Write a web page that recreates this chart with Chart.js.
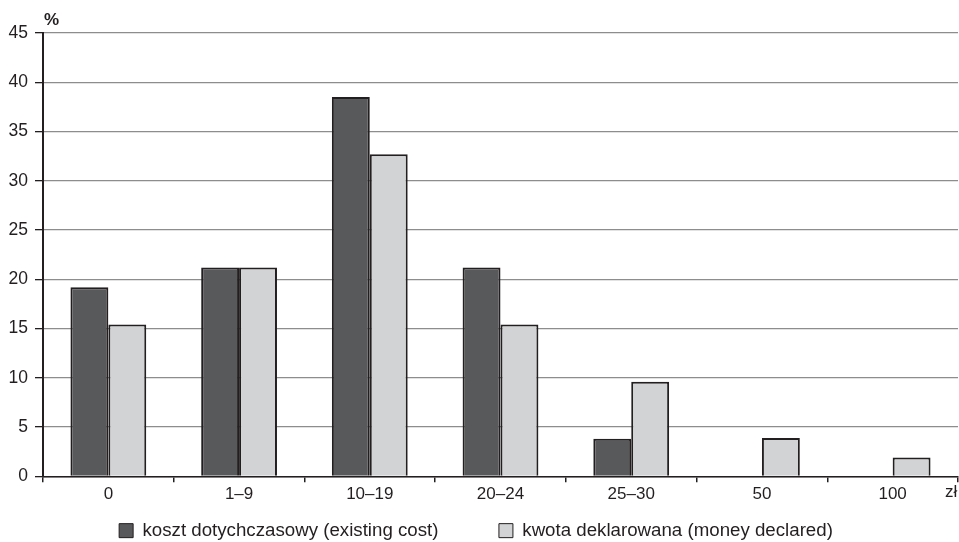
<!DOCTYPE html>
<html>
<head>
<meta charset="utf-8">
<script src="https://cdn.jsdelivr.net/npm/chart.js@4/dist/chart.umd.min.js"></script>
<style>
  html, body { margin: 0; padding: 0; background: #fff; }
  #wrap { width: 959px; height: 542px; }
</style>
</head>
<body>
<div id="wrap"><canvas id="chart-area"></canvas></div>
<script>
// data
var categories = ['0', '1–9', '10–19', '20–24', '25–30', '50', '100'];
var existingCost = [19.2, 21.2, 38.5, 21.2, 3.8, null, null];
var moneyDeclared = [15.4, 21.2, 32.7, 15.4, 9.6, 3.9, 1.9];
var yTicks = [0, 5, 10, 15, 20, 25, 30, 35, 40, 45];

var ink = '#231f20';
var font = 'Arial, "Liberation Sans", sans-serif';

// the "%" and "zł" unit labels
var unitLabels = {
    id: 'unitLabels',
    afterLayout: function (chart) {
        // nudge the legend to where the original has it
        var lg = chart.legend;
        lg.left -= 3; lg.right -= 3;
        lg.top += 8; lg.bottom += 8;
    },
    afterDraw: function (chart) {
        var ctx = chart.ctx, area = chart.chartArea;
        ctx.save();
        ctx.fillStyle = ink;
        ctx.textBaseline = 'middle';
        ctx.textAlign = 'left';
        ctx.font = 'bold 17px ' + font;
        ctx.fillText('%', area.left + 1, area.top - 13);
        ctx.font = '17px ' + font;
        ctx.fillText('zł', area.right - 13, area.bottom + 16);
        ctx.restore();
    }
};

var config = {
    type: 'bar',
    data: {
        labels: categories,
        datasets: [{
            label: 'koszt dotychczasowy (existing cost)',
            data: existingCost,
            backgroundColor: '#58595b',
            borderColor: ink,
            borderWidth: 2
        }, {
            label: 'kwota deklarowana (money declared)',
            data: moneyDeclared,
            backgroundColor: '#d1d3d4',
            borderColor: ink,
            borderWidth: 2
        }]
    },
    options: {
        responsive: true,
        maintainAspectRatio: false,
        animation: false,
        categoryPercentage: 0.58,
        barPercentage: 1.0,
        layout: {
            padding: { top: 33, right: 1, bottom: 0, left: 0 }
        },
        plugins: {
            tooltip: { enabled: false },
            legend: {
                position: 'bottom',
                labels: {
                    color: ink,
                    font: { family: font, size: 18.7 },
                    boxWidth: 14,
                    boxHeight: 14,
                    padding: 10,
                    generateLabels: function (chart) {
                        var items = Chart.defaults.plugins.legend.labels.generateLabels(chart);
                        items.forEach(function (it, i) {
                            it.lineWidth = 1;
                            if (i === 0) it.text += '\u2002\u2002\u2002\u2002\u2002\u2009';
                        });
                        return items;
                    }
                }
            }
        },
        scales: {
            x: {
                offset: true,
                afterFit: function (scale) { scale.height = 27; },
                grid: {
                    offset: true,
                    drawOnChartArea: true,
                    color: function (c) { return c.index === categories.length ? ink : 'rgba(0,0,0,0)'; },
                    tickColor: ink,
                    tickLength: 6,
                    lineWidth: 1.5
                },
                border: { color: ink, width: 1.5 },
                ticks: {
                    color: ink,
                    padding: 2,
                    font: { family: font, size: 17 }
                }
            },
            y: {
                min: 0,
                max: 45,
                afterFit: function (scale) { scale.width = 43; },
                afterBuildTicks: function (scale) {
                    scale.ticks = yTicks.map(function (v) { return { value: v }; });
                },
                grid: {
                    color: '#8d8d8d',
                    lineWidth: 1.3,
                    tickColor: ink,
                    tickLength: 8
                },
                border: { color: ink, width: 2 },
                ticks: {
                    color: ink,
                    padding: 7,
                    font: { family: font, size: 17.5 }
                }
            }
        }
    },
    plugins: [unitLabels]
};

window.onload = function () {
    var ctx = document.getElementById('chart-area').getContext('2d');
    window.myBar = new Chart(ctx, config);
};
</script>
</body>
</html>
